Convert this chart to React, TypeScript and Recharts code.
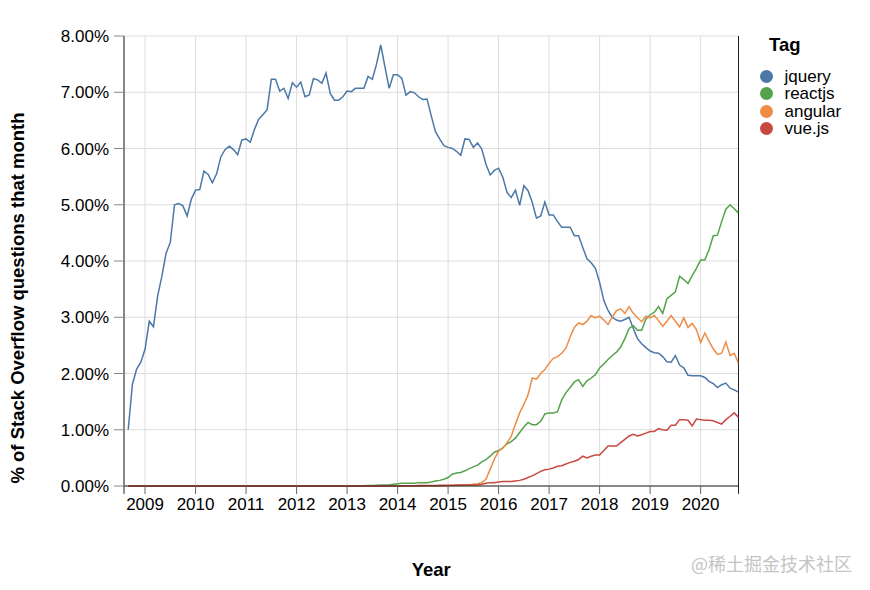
import React from "react";
import { LineChart, Line, XAxis, YAxis, CartesianGrid, Legend, ReferenceLine } from "recharts";

const FONT = '"Liberation Sans", Arial, Helvetica, sans-serif';

// monthly data, first month = Sep 2008, last = Oct 2020
const START_YEAR = 2008;
const START_MONTH = 9;

const YEAR_TICKS = [2009, 2010, 2011, 2012, 2013, 2014, 2015, 2016, 2017, 2018, 2019, 2020];
const PCT_TICKS = [0, 1, 2, 3, 4, 5, 6, 7, 8];

// % of Stack Overflow questions that month, one row per calendar year
const JQUERY = [
  1.0, 1.81, 2.08, 2.2,
  2.43, 2.93, 2.83, 3.38, 3.73, 4.14, 4.33, 5.0, 5.02, 4.98, 4.8, 5.1,
  5.26, 5.27, 5.6, 5.54, 5.39, 5.55, 5.85, 5.98, 6.04, 5.98, 5.89, 6.15,
  6.17, 6.11, 6.34, 6.52, 6.6, 6.69, 7.23, 7.23, 7.02, 7.07, 6.89, 7.17,
  7.09, 7.18, 6.92, 6.95, 7.24, 7.22, 7.16, 7.34, 6.98, 6.86, 6.86, 6.92,
  7.02, 7.01, 7.07, 7.07, 7.07, 7.28, 7.23, 7.5, 7.84, 7.45, 7.07, 7.31,
  7.31, 7.25, 6.95, 7.01, 6.99, 6.92, 6.87, 6.88, 6.58, 6.3, 6.17, 6.05,
  6.02, 6.0, 5.95, 5.88, 6.17, 6.16, 6.02, 6.1, 5.99, 5.72, 5.53, 5.61,
  5.65, 5.49, 5.22, 5.13, 5.26, 4.99, 5.34, 5.25, 5.04, 4.76, 4.8, 5.05,
  4.82, 4.82, 4.7, 4.6, 4.6, 4.6, 4.45, 4.45, 4.24, 4.04, 3.97, 3.87,
  3.62, 3.3, 3.12, 3.0, 2.95, 2.93, 2.96, 3.0, 2.8, 2.62, 2.53, 2.46,
  2.4, 2.37, 2.36, 2.3, 2.21, 2.2, 2.32, 2.15, 2.1, 1.97, 1.96, 1.96,
  1.96, 1.93, 1.86, 1.82, 1.75, 1.8, 1.83, 1.74, 1.71, 1.67,
];

const REACTJS = [
  0, 0, 0, 0,
  0, 0, 0, 0, 0, 0, 0, 0, 0, 0, 0, 0,
  0, 0, 0, 0, 0, 0, 0, 0, 0, 0, 0, 0,
  0, 0, 0, 0, 0, 0, 0, 0, 0, 0, 0, 0,
  0, 0, 0, 0, 0, 0, 0, 0, 0, 0, 0, 0,
  0, 0, 0, 0, 0.005, 0.01, 0.01, 0.015, 0.02, 0.02, 0.02, 0.03,
  0.04, 0.05, 0.05, 0.05, 0.05, 0.06, 0.06, 0.06, 0.07, 0.09, 0.1, 0.12,
  0.15, 0.21, 0.23, 0.24, 0.27, 0.31, 0.34, 0.37, 0.43, 0.47, 0.53, 0.6,
  0.63, 0.68, 0.75, 0.79, 0.85, 0.95, 1.05, 1.13, 1.09, 1.09, 1.15, 1.28,
  1.3, 1.3, 1.32, 1.53, 1.66, 1.75, 1.85, 1.89, 1.77, 1.87, 1.92, 1.98,
  2.1, 2.17, 2.25, 2.32, 2.38, 2.47, 2.62, 2.8, 2.85, 2.77, 2.77, 2.97,
  3.04, 3.09, 3.19, 3.07, 3.33, 3.39, 3.45, 3.73, 3.67, 3.6, 3.74, 3.87,
  4.02, 4.02, 4.2, 4.45, 4.46, 4.7, 4.92, 5.0, 4.93, 4.85,
];

const ANGULAR = [
  0, 0, 0, 0,
  0, 0, 0, 0, 0, 0, 0, 0, 0, 0, 0, 0,
  0, 0, 0, 0, 0, 0, 0, 0, 0, 0, 0, 0,
  0, 0, 0, 0, 0, 0, 0, 0, 0, 0, 0, 0,
  0, 0, 0, 0, 0, 0, 0, 0, 0, 0, 0, 0,
  0, 0, 0, 0, 0, 0, 0, 0, 0, 0, 0, 0,
  0, 0, 0, 0, 0, 0, 0, 0, 0, 0, 0, 0,
  0.005, 0.01, 0.01, 0.015, 0.02, 0.02, 0.03, 0.04, 0.06, 0.12, 0.3, 0.48,
  0.62, 0.67, 0.77, 0.88, 1.1, 1.3, 1.45, 1.62, 1.92, 1.9, 2.0, 2.07,
  2.18, 2.27, 2.3, 2.36, 2.45, 2.65, 2.82, 2.9, 2.87, 2.93, 3.03, 2.99,
  3.02, 2.95, 2.87, 3.0, 3.12, 3.15, 3.07, 3.19, 3.07, 2.99, 2.92, 3.02,
  2.99, 3.03, 2.94, 2.84, 2.93, 3.03, 2.93, 2.83, 2.99, 2.82, 2.89, 2.78,
  2.55, 2.72, 2.57, 2.44, 2.34, 2.36, 2.56, 2.32, 2.36, 2.18,
];

const VUE = [
  0, 0, 0, 0,
  0, 0, 0, 0, 0, 0, 0, 0, 0, 0, 0, 0,
  0, 0, 0, 0, 0, 0, 0, 0, 0, 0, 0, 0,
  0, 0, 0, 0, 0, 0, 0, 0, 0, 0, 0, 0,
  0, 0, 0, 0, 0, 0, 0, 0, 0, 0, 0, 0,
  0, 0, 0, 0, 0, 0, 0, 0, 0, 0, 0, 0,
  0, 0, 0.005, 0.005, 0.005, 0.01, 0.01, 0.01, 0.01, 0.01, 0.015, 0.015,
  0.015, 0.015, 0.02, 0.02, 0.02, 0.02, 0.02, 0.02, 0.03, 0.05, 0.06, 0.06,
  0.07, 0.08, 0.08, 0.08, 0.09, 0.1, 0.12, 0.15, 0.18, 0.22, 0.26, 0.29,
  0.3, 0.32, 0.35, 0.36, 0.39, 0.42, 0.44, 0.47, 0.53, 0.5, 0.53, 0.55,
  0.55, 0.63, 0.71, 0.71, 0.71, 0.77, 0.83, 0.89, 0.92, 0.89, 0.91, 0.94,
  0.97, 0.97, 1.02, 1.0, 0.99, 1.08, 1.08, 1.18, 1.18, 1.17, 1.07, 1.19,
  1.18, 1.17, 1.17, 1.16, 1.13, 1.1, 1.18, 1.24, 1.3, 1.22,
];

const SERIES = [
  { key: "jquery", name: "jquery", color: "#4c78a8" },
  { key: "reactjs", name: "reactjs", color: "#54a24b" },
  { key: "angular", name: "angular", color: "#ee8b45" },
  { key: "vue", name: "vue.js", color: "#c8493f" },
];

const firstT = START_YEAR + (START_MONTH - 1) / 12;
const rows = JQUERY.map((v, i) => ({
  t: firstT + i / 12,
  jquery: v,
  reactjs: REACTJS[i],
  angular: ANGULAR[i],
  vue: VUE[i],
}));
const X_DOMAIN = [firstT - 1 / 12, rows[rows.length - 1].t];

function YTitle(props: any) {
  const vb = props.viewBox || { x: 0, y: 36, height: 450 };
  const x = vb.x + 17;
  const y = vb.y + vb.height / 2 + 37;
  return (
    <text x={x} y={y} transform={`rotate(-90 ${x} ${y})`} textAnchor="middle" dominantBaseline="central"
      fontFamily={FONT} fontSize={18.5} fontWeight="bold" fill="#000">
      % of Stack Overflow questions that month
    </text>
  );
}

function XTitle(props: any) {
  const vb = props.viewBox || { x: 124, y: 486, width: 614 };
  return (
    <text x={vb.x + vb.width / 2} y={576} textAnchor="middle" fontFamily={FONT} fontSize={18.5} fontWeight="bold" fill="#000">
      Year
    </text>
  );
}

function TagLegend() {
  return (
    <div style={{ position: "relative", width: 110, height: 110, fontFamily: FONT, color: "#000" }}>
      <div style={{ position: "absolute", left: 9, top: 0, fontSize: 18.5, fontWeight: "bold", lineHeight: "20px" }}>Tag</div>
      {SERIES.map((s, i) => (
        <div key={s.key} style={{ position: "absolute", left: 0, top: 33 + i * 17.3, height: 17, display: "flex", alignItems: "center", whiteSpace: "nowrap" }}>
          <span style={{ display: "inline-block", width: 13, height: 13, borderRadius: "50%", background: s.color }} />
          <span style={{ marginLeft: 11.5, fontSize: 17, lineHeight: "17px" }}>{s.name}</span>
        </div>
      ))}
    </div>
  );
}

export default function App() {
  return (
    <div style={{ position: "absolute", left: 0, top: 0, width: 870, height: 590, background: "#fff", fontFamily: FONT }}>
      <LineChart width={870} height={590} data={rows} margin={{ top: 36, right: 131.5, bottom: 0, left: 0 }}>
        <CartesianGrid stroke="#ddd" strokeWidth={1} />
        <XAxis
          dataKey="t"
          type="number"
          domain={X_DOMAIN}
          allowDataOverflow
          ticks={YEAR_TICKS}
          interval={0}
          height={104}
          tickSize={8}
          tickMargin={4}
          tickLine={{ stroke: "#666" }}
          axisLine={{ stroke: "#222" }}
          tick={{ fontSize: 17, fill: "#000", fontFamily: FONT }}
          label={<XTitle />}
        />
        <YAxis
          type="number"
          domain={[0, 8]}
          ticks={PCT_TICKS}
          interval={0}
          width={124}
          tickSize={10}
          tickMargin={5}
          tickLine={{ stroke: "#888" }}
          axisLine={{ stroke: "#222" }}
          tick={{ fontSize: 17, fill: "#000", fontFamily: FONT }}
          tickFormatter={(v: number) => `${v.toFixed(2)}%`}
          label={<YTitle />}
        />
        <ReferenceLine x={X_DOMAIN[1]} stroke="#222" />
        {/* axis lines run a little past the x axis, as ticks do */}
        <ReferenceLine segment={[{ x: X_DOMAIN[0], y: 0 }, { x: X_DOMAIN[0], y: -0.14 }]} stroke="#222" ifOverflow="visible" />
        <ReferenceLine segment={[{ x: X_DOMAIN[1], y: 0 }, { x: X_DOMAIN[1], y: -0.14 }]} stroke="#222" ifOverflow="visible" />
        {SERIES.map((s) => (
          <Line key={s.key} type="linear" dataKey={s.key} name={s.name} stroke={s.color} strokeWidth={1.5}
            dot={false} activeDot={false} isAnimationActive={false} />
        ))}
        <Legend layout="vertical" align="center" verticalAlign="middle" content={<TagLegend />}
          wrapperStyle={{ left: 760, top: 35, width: 110, height: 110 }} />
      </LineChart>
      <div style={{ position: "absolute", left: 691, top: 550, fontFamily: '"Noto Sans CJK SC", sans-serif', fontSize: 18, color: "#c4c4c4", whiteSpace: "nowrap" }}>
        @稀土掘金技术社区
      </div>
    </div>
  );
}
